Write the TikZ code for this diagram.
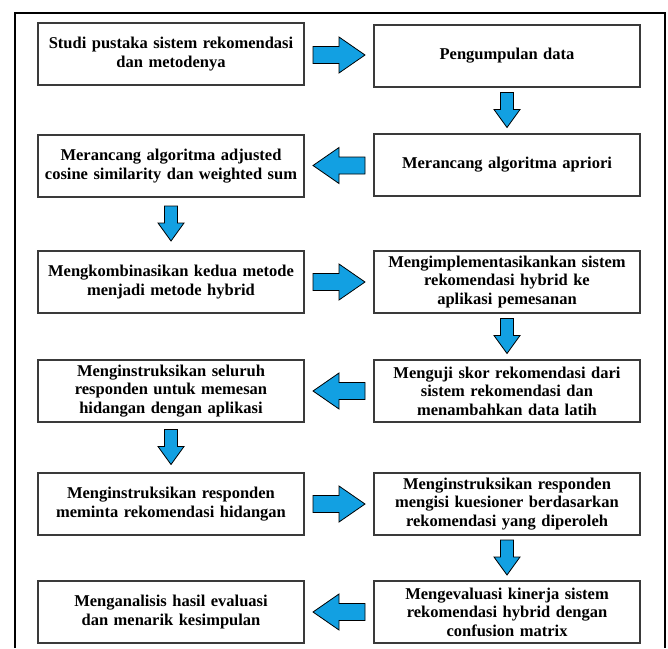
\documentclass[tikz,border=0pt]{standalone}
\usepackage{fontspec}
\setmainfont{Liberation Serif}
\usetikzlibrary{positioning,calc,shadows}

\definecolor{arrowblue}{RGB}{18,160,226}
\definecolor{boxline}{RGB}{58,58,58}

\tikzset{
  box/.style={draw=boxline, line width=1.3pt, fill=white,
    minimum width=266pt, minimum height=62pt, text width=256pt,
    align=center, inner sep=2pt, outer sep=0pt,
    font=\fontsize{16.5}{18.5}\selectfont\bfseries,
    drop shadow={shadow xshift=1.3pt, shadow yshift=-1.3pt, fill=black!45, opacity=1}},
  fatarrow/.style={draw=black, line width=0.8pt, fill=arrowblue, line join=miter},
  rarrow/.pic={\filldraw[fatarrow] (-26,-8.5) -- (0,-8.5) -- (0,-18) -- (26,0)
    -- (0,18) -- (0,8.5) -- (-26,8.5) -- cycle;},
  darrow/.pic={\filldraw[fatarrow] (-6.5,-18) -- (6.5,-18) -- (6.5,-1) -- (13,-1)
    -- (0,17) -- (-13,-1) -- (-6.5,-1) -- cycle;}
}

\begin{document}
\begin{tikzpicture}[x=1pt, y=-1pt]
  \useasboundingbox (0,0) rectangle (668,648);
  \draw[line width=1.3pt] (15,648) -- (15,13) -- (665,13) -- (665,648);

  % left and right column, row by row
  \node (b1) [box] at (171,54) {Studi pustaka sistem rekomendasi\\dan metodenya};
  \node (b2) [box, right=70pt of b1, yshift=-2pt] {Pengumpulan data};
  \node (b3) [box, below=50pt of b1] {Merancang algoritma adjusted\\cosine similarity dan weighted sum};
  \node (b4) [box, right=70pt of b3, yshift=1pt] {Merancang algoritma apriori};
  \node (b5) [box, below=54pt of b3] {Mengkombinasikan kedua metode\\menjadi metode hybrid};
  \node (b6) [box, right=70pt of b5] {Mengimplementasikankan sistem\\rekomendasi hybrid ke\\aplikasi pemesanan};
  \node (b7) [box, below=47pt of b5] {Menginstruksikan seluruh\\responden untuk memesan\\hidangan dengan aplikasi};
  \node (b8) [box, right=70pt of b7] {Menguji skor rekomendasi dari\\sistem rekomendasi dan\\menambahkan data latih};
  \node (b9) [box, below=51pt of b7] {Menginstruksikan responden\\meminta rekomendasi hidangan};
  \node (b10) [box, right=70pt of b9] {Menginstruksikan responden\\mengisi kuesioner berdasarkan\\rekomendasi yang diperoleh};
  \node (b11) [box, below=46pt of b9] {Menganalisis hasil evaluasi\\dan menarik kesimpulan};
  \node (b12) [box, right=70pt of b11] {Mengevaluasi kinerja sistem\\rekomendasi hybrid dengan\\confusion matrix};

  % block arrows
  \pic at ($(b1.east)!0.5!(b2.west)$) {rarrow};
  \pic at ($(b2.south)!0.5!(b4.north)$) {darrow};
  \pic[xscale=-1] at ($(b4.west)!0.5!(b3.east)$) {rarrow};
  \pic at ($(b3.south)!0.5!(b5.north)$) {darrow};
  \pic at ($(b5.east)!0.5!(b6.west)$) {rarrow};
  \pic at ($(b6.south)!0.5!(b8.north)$) {darrow};
  \pic[xscale=-1] at ($(b8.west)!0.5!(b7.east)$) {rarrow};
  \pic at ($(b7.south)!0.5!(b9.north)$) {darrow};
  \pic at ($(b9.east)!0.5!(b10.west)$) {rarrow};
  \pic at ($(b10.south)!0.5!(b12.north)$) {darrow};
  \pic[xscale=-1] at ($(b12.west)!0.5!(b11.east)$) {rarrow};
\end{tikzpicture}
\end{document}
